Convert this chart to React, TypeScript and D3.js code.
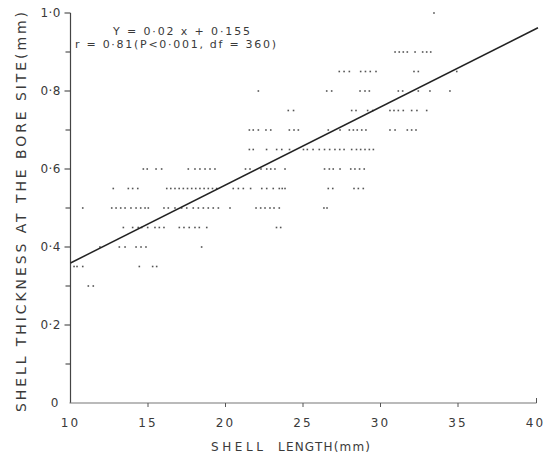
import React from 'react';
import * as d3 from 'd3';

// ---- data ----
const thicknessLevels = [1.0, 0.9, 0.85, 0.8, 0.75, 0.7, 0.65, 0.6, 0.55, 0.5, 0.45, 0.4, 0.35, 0.3];
const lengthsByLevel: number[][] = [
  [33.45],
  [30.94, 31.21, 31.47, 31.73, 32.23, 32.72, 32.98, 33.24],
  [27.34, 27.65, 27.99, 28.72, 29.03, 29.34, 29.71, 32.16, 32.44, 34.92],
  [22.12, 26.53, 26.85, 28.68, 29.0, 29.28, 31.15, 31.43, 32.44, 33.19, 34.48],
  [24.05, 24.39, 28.14, 28.42, 29.17, 29.5, 30.61, 30.87, 31.15, 31.47, 32.01, 32.35, 32.98],
  [21.54, 21.79, 22.12, 22.61, 22.92, 24.12, 24.42, 24.7, 26.63, 27.39, 27.99, 28.25, 28.5, 28.79, 29.06, 30.61, 30.94, 31.73, 32.01, 32.29],
  [21.54, 21.79, 22.65, 23.3, 23.63, 24.13, 25.03, 25.28, 25.65, 26.05, 26.39, 26.72, 27.06, 27.37, 27.65, 28.14, 28.45, 28.72, 29.0, 29.28, 29.54],
  [14.7, 14.95, 15.52, 15.88, 17.6, 18.03, 18.35, 18.68, 19.0, 19.32, 21.29, 21.58, 22.29, 22.66, 22.92, 23.19, 23.84, 26.39, 26.7, 26.95, 27.39, 28.08, 28.35, 28.65, 28.95],
  [12.76, 13.73, 14.01, 14.34, 16.21, 16.47, 16.74, 17.01, 17.28, 17.55, 17.82, 18.08, 18.35, 18.62, 18.89, 19.16, 19.43, 20.5, 20.83, 21.15, 21.62, 22.34, 22.66, 23.08, 23.47, 23.66, 23.84, 26.63, 26.92, 28.29, 28.57, 28.89],
  [10.79, 12.66, 12.94, 13.24, 13.52, 13.9, 14.23, 14.53, 14.81, 15.02, 16.03, 16.31, 16.74, 17.17, 17.5, 17.92, 18.25, 18.57, 18.89, 19.21, 19.54, 20.29, 21.97, 22.27, 22.55, 22.87, 23.13, 23.47, 26.35, 26.55],
  [13.41, 14.01, 14.37, 14.59, 14.98, 15.45, 15.73, 16.03, 17.02, 17.32, 17.66, 18.03, 18.31, 18.79, 23.29, 23.56],
  [11.9, 13.15, 13.52, 14.23, 14.55, 14.87, 18.46],
  [10.23, 10.42, 10.79, 14.44, 15.3, 15.56],
  [11.15, 11.47],
];

const xTicks = [10, 15, 20, 25, 30, 35, 40];
const xTickLabels = ['10', '15', '20', '25', '30', '35', '40'];
const yTicks = [0, 0.2, 0.4, 0.6, 0.8, 1.0];
const yTickLabels = ['0', '0·2', '0·4', '0·6', '0·8', '1·0'];
const yMinorTicks = [0.1, 0.3, 0.5, 0.7, 0.9];

const regSlope = 0.02;
const regIntercept = 0.159;
const regRange = [10, 40.16];

const eqLine1 = 'Y = 0·02 x + 0·155';
const eqLine2 = 'r = 0·81(P<0·001, df = 360)';
const xTitleA = 'SHELL';
const xTitleB = 'LENGTH(mm)';
const yTitle = 'SHELL THICKNESS AT THE BORE SITE(mm)';

export default function App() {
  const W = 552, H = 454;
  const x = d3.scaleLinear().domain([10, 40]).range([70.5, 535.5]);
  const y = d3.scaleLinear().domain([0, 1]).range([403, 13]);

  const points: { lx: number; ty: number }[] = [];
  thicknessLevels.forEach((t, i) => lengthsByLevel[i].forEach((l) => points.push({ lx: l, ty: t })));

  const line = d3.line<number>().x((d) => x(d)).y((d) => y(regSlope * d + regIntercept));

  const font = 'DejaVu Sans, Liberation Sans, sans-serif';
  const ink = '#3a3a3a';

  return (
    <svg width={W} height={H} style={{ position: 'absolute', left: 0, top: 0, background: '#fff' }}>
      <rect x={0} y={0} width={W} height={H} fill="#fff" />
      {/* y axis */}
      <line x1={x(10)} x2={x(10)} y1={y(0)} y2={y(1)} stroke="#444" strokeWidth={1.2} />
      {yTicks.map((t, i) => (
        <g key={'yt' + i}>
          {t > 0 && <line x1={x(10) - 6} x2={x(10)} y1={y(t)} y2={y(t)} stroke="#444" strokeWidth={1.1} />}
          <text x={t === 0 ? 59 : 61} y={y(t)} dy="0.35em" textAnchor="end" fontFamily={font} fontSize={12} fill={ink} letterSpacing={0.5}>
            {yTickLabels[i]}
          </text>
        </g>
      ))}
      {yMinorTicks.map((t, i) => (
        <line key={'ym' + i} x1={x(10) - 5} x2={x(10)} y1={y(t)} y2={y(t)} stroke="#444" strokeWidth={1.1} />
      ))}
      {/* x axis */}
      <line x1={x(10) - 1} x2={x(40) + 1} y1={y(0)} y2={y(0)} stroke="#777" strokeWidth={1.2} />
      {xTicks.map((t, i) => (
        <g key={'xt' + i}>
          {t > 10 && t < 40 && <line x1={x(t)} x2={x(t)} y1={y(0)} y2={y(0) + 4} stroke="#555" strokeWidth={1} />}
          {t === 40 && <line x1={x(t) + 1} x2={x(t) + 1} y1={y(0)} y2={y(0) - 5} stroke="#555" strokeWidth={1} />}
          <text x={x(t)} y={427} textAnchor="middle" fontFamily={font} fontSize={12} fill={ink} letterSpacing={2}>
            {xTickLabels[i]}
          </text>
        </g>
      ))}
      {/* points */}
      {points.map((p, i) => (
        <rect key={'p' + i} x={x(p.lx) - 0.8} y={y(p.ty) - 0.8} width={1.6} height={1.6} fill="#555" />
      ))}
      {/* regression line */}
      <path d={line(regRange) || ''} stroke="#222" strokeWidth={1.5} fill="none" />
      {/* equation */}
      <text x={113} y={35} fontFamily={font} fontSize={11} fill={ink} textLength={137} lengthAdjust="spacing">
        {eqLine1}
      </text>
      <text x={75} y={48} fontFamily={font} fontSize={11} fill={ink} textLength={201} lengthAdjust="spacing">
        {eqLine2}
      </text>
      {/* titles */}
      <text x={211} y={451} fontFamily={font} fontSize={12} fill={ink} textLength={52} lengthAdjust="spacing">
        {xTitleA}
      </text>
      <text x={278} y={451} fontFamily={font} fontSize={12} fill={ink} textLength={92} lengthAdjust="spacing">
        {xTitleB}
      </text>
      <text transform={`translate(26,412) rotate(-90)`} x={0} y={0} fontFamily={font} fontSize={14} fill={ink} textLength={400} lengthAdjust="spacing">
        {yTitle}
      </text>
    </svg>
  );
}
